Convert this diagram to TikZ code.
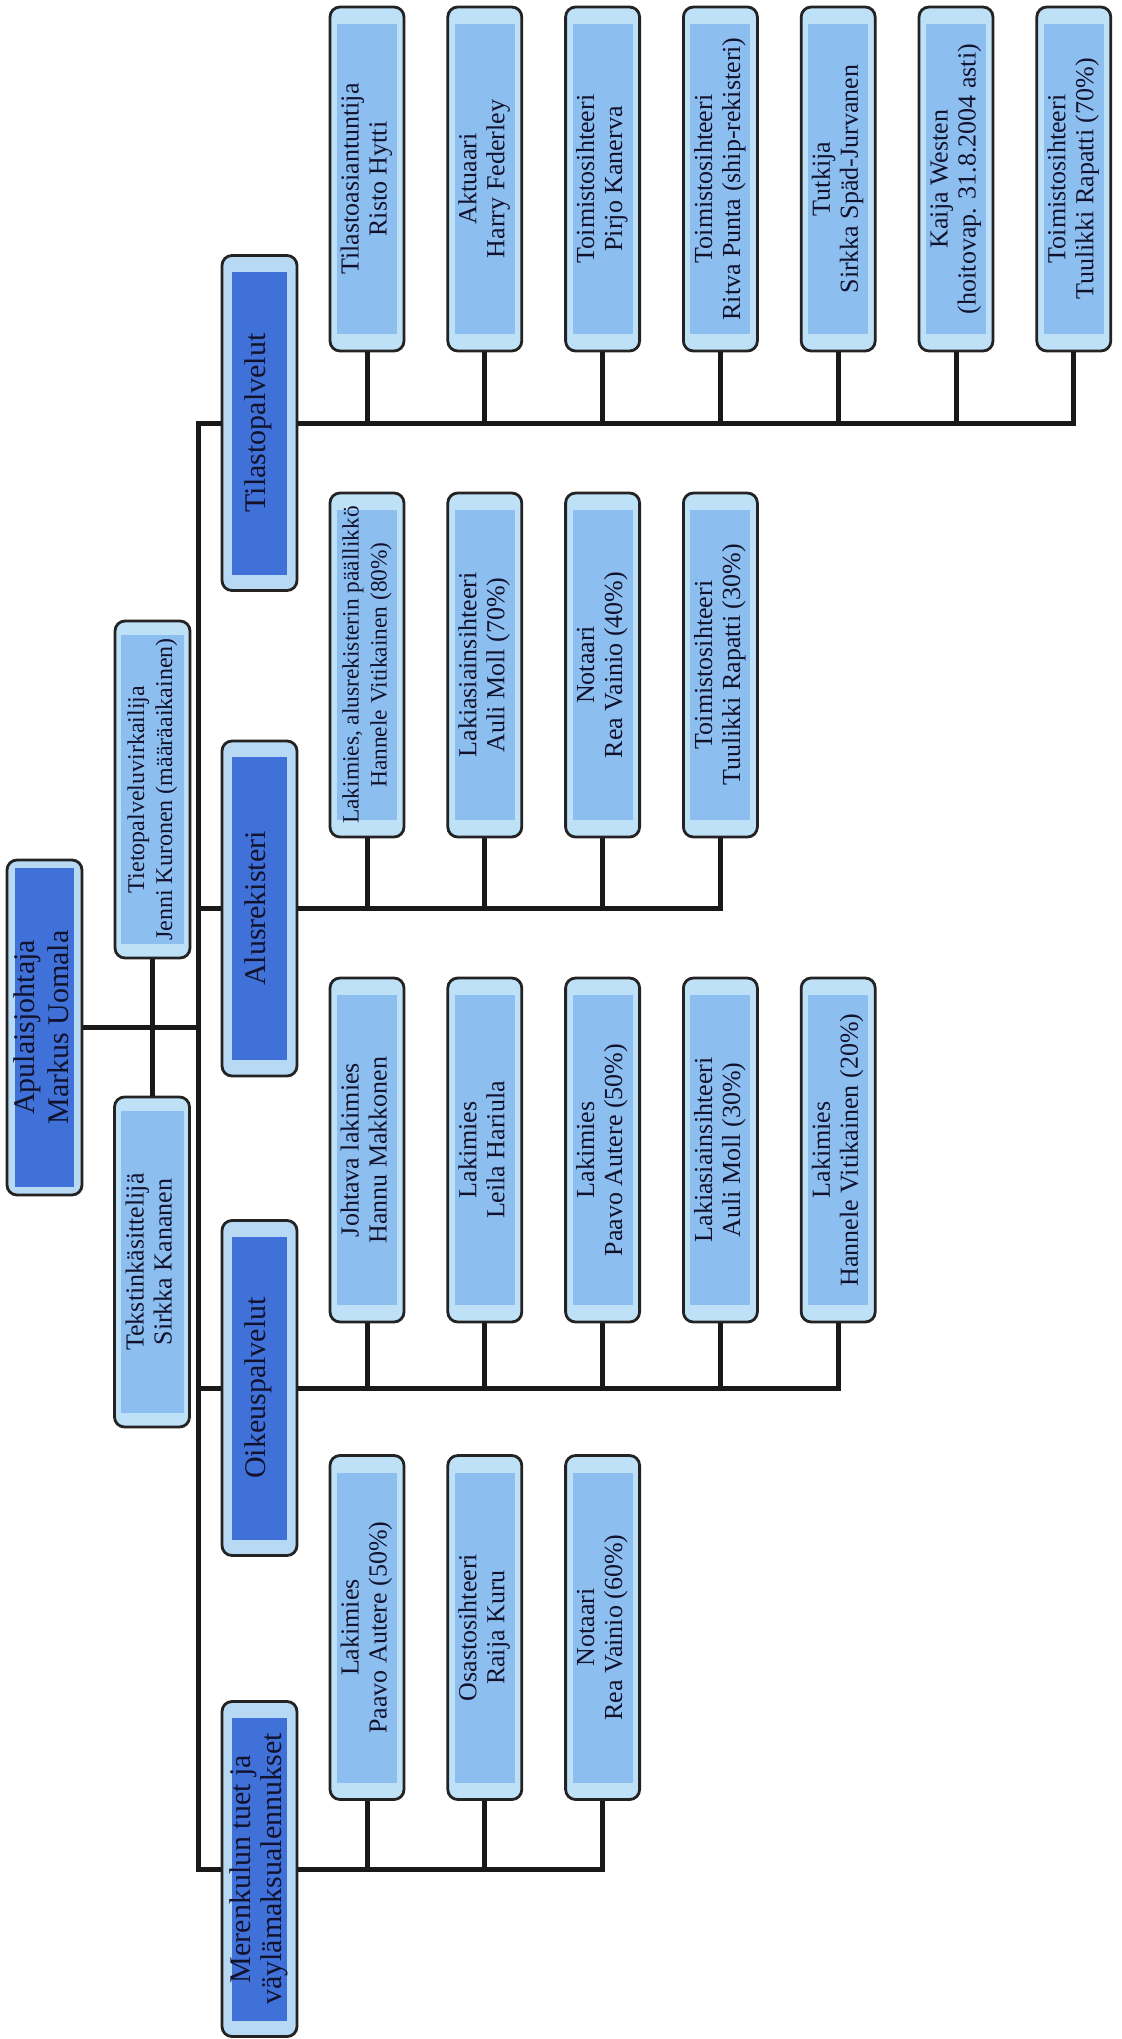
\documentclass[tikz,border=0pt]{standalone}
\usepackage{fontspec}
\setmainfont{Liberation Serif}
\usepackage{graphicx}
\definecolor{cOutL}{RGB}{190,225,247}
\definecolor{cInL}{RGB}{140,190,240}
\definecolor{cOutD}{RGB}{183,217,243}
\definecolor{cInD}{RGB}{63,113,217}
\definecolor{cBord}{RGB}{35,35,35}
\definecolor{cLine}{RGB}{25,25,25}
\definecolor{cText}{RGB}{18,18,45}
\newcommand\vlab[1]{\rotatebox{90}{\begin{tabular}{@{}c@{}}#1\end{tabular}}}
\newcommand\ofInner[3]{\fill[#1,sharp corners] ([shift={(#2,#3)}]path picture bounding box.south west) rectangle ([shift={(-#2,-#3)}]path picture bounding box.north east);}
\tikzset{
 bxbase/.style={draw=cBord, line width=1.4pt, rounded corners=5pt, inner sep=0pt, text=cText},
 childbox/.style={bxbase, fill=cOutL, minimum width=37pt, minimum height=172pt, font=\fontsize{13}{14}\selectfont, path picture={\ofInner{cInL}{3.5pt}{8.5pt}}},
 staffbox/.style={bxbase, fill=cOutL, minimum width=37.5pt, minimum height=167pt, font=\fontsize{13}{14}\selectfont, path picture={\ofInner{cInL}{3pt}{7pt}}},
 deptbox/.style={bxbase, fill=cOutD, minimum width=37.5pt, minimum height=167.5pt, font=\fontsize{15}{15.5}\selectfont, path picture={\ofInner{cInD}{5pt}{8pt}}},
 rootbox/.style={bxbase, fill=cOutD, minimum width=37.5pt, minimum height=167.5pt, font=\fontsize{15}{17}\selectfont, path picture={\ofInner{cInD}{4pt}{4pt}}},
 conn/.style={draw=cLine, line width=2.5pt, line join=miter},
}
\begin{document}
\begin{tikzpicture}[x=0.5pt,y=-0.5pt]
\useasboundingbox (0,0) rectangle (1121,2039);
\fill[white] (0,0) rectangle (1121,2039);

% top level
\node[rootbox] (root) at (44.5,1027.5) {\vlab{Apulaisjohtaja\\Markus Uomala}};
\node[staffbox, minimum height=168.5pt, font=\fontsize{12}{14}\selectfont] (tieto) at (152.5,789.5) {\vlab{Tietopalveluvirkailija\\Jenni Kuronen (määräaikainen)}};
\node[staffbox, minimum height=165pt] (teksti) at (152,1262) {\vlab{Tekstinkäsittelijä\\Sirkka Kananen}};

% departments
\node[deptbox] (tilasto) at (259.5,423) {\vlab{Tilastopalvelut}};
\node[deptbox] (alus) at (259.5,908.5) {\vlab{Alusrekisteri}};
\node[deptbox] (oikeus) at (259.5,1388) {\vlab{Oikeuspalvelut}};
\node[deptbox] (meren) at (259.5,1869) {\vlab{Merenkulun tuet ja\\väylämaksualennukset}};

% Tilastopalvelut staff
\node[childbox] (t1) at (367,179) {\vlab{Tilastoasiantuntija\\Risto Hytti}};
\node[childbox] (t2) at (484.8,179) {\vlab{Aktuaari\\Harry Federley}};
\node[childbox] (t3) at (602.6,179) {\vlab{Toimistosihteeri\\Pirjo Kanerva}};
\node[childbox] (t4) at (720.4,179) {\vlab{Toimistosihteeri\\Ritva Punta (ship-rekisteri)}};
\node[childbox] (t5) at (838.2,179) {\vlab{Tutkija\\Sirkka Späd-Jurvanen}};
\node[childbox] (t6) at (956,179) {\vlab{Kaija Westen\\(hoitovap. 31.8.2004 asti)}};
\node[childbox] (t7) at (1073.8,179) {\vlab{Toimistosihteeri\\Tuulikki Rapatti (70\%)}};

% Alusrekisteri staff
\node[childbox, font=\fontsize{11.7}{14}\selectfont] (a1) at (367,665) {\vlab{Lakimies, alusrekisterin päällikkö\\Hannele Vitikainen (80\%)}};
\node[childbox] (a2) at (484.8,665) {\vlab{Lakiasiainsihteeri\\Auli Moll (70\%)}};
\node[childbox] (a3) at (602.6,665) {\vlab{Notaari\\Rea Vainio (40\%)}};
\node[childbox] (a4) at (720.4,665) {\vlab{Toimistosihteeri\\Tuulikki Rapatti (30\%)}};

% Oikeuspalvelut staff
\node[childbox] (o1) at (367,1150) {\vlab{Johtava lakimies\\Hannu Makkonen}};
\node[childbox] (o2) at (484.8,1150) {\vlab{Lakimies\\Leila Hariula}};
\node[childbox] (o3) at (602.6,1150) {\vlab{Lakimies\\Paavo Autere (50\%)}};
\node[childbox] (o4) at (720.4,1150) {\vlab{Lakiasiainsihteeri\\Auli Moll (30\%)}};
\node[childbox] (o5) at (838.2,1150) {\vlab{Lakimies\\Hannele Vitikainen (20\%)}};

% Merenkulun staff
\node[childbox] (m1) at (367,1627.5) {\vlab{Lakimies\\Paavo Autere (50\%)}};
\node[childbox] (m2) at (484.8,1627.5) {\vlab{Osastosihteeri\\Raija Kuru}};
\node[childbox] (m3) at (602.6,1627.5) {\vlab{Notaari\\Rea Vainio (60\%)}};

% connectors
\coordinate (bx) at (198,0);
\draw[conn] (root.east) -- (root.east -| bx);
\draw[conn] (tieto.south) -- (tieto.south |- teksti.north);
\draw[conn] (tilasto.west) -- (tilasto.west -| bx) -- (meren.west -| bx) -- (meren.west);
\draw[conn] (alus.west -| bx) -- (alus.west);
\draw[conn] (oikeus.west -| bx) -- (oikeus.west);

\draw[conn] (tilasto.east) -- (tilasto.east -| t7.south) -- (t7.south);
\foreach \c in {t1,t2,t3,t4,t5,t6} \draw[conn] (\c.south) -- (\c.south |- tilasto.east);

\draw[conn] (alus.east) -- (alus.east -| a4.south) -- (a4.south);
\foreach \c in {a1,a2,a3} \draw[conn] (\c.south) -- (\c.south |- alus.east);

\draw[conn] (oikeus.east) -- (oikeus.east -| o5.south) -- (o5.south);
\foreach \c in {o1,o2,o3,o4} \draw[conn] (\c.south) -- (\c.south |- oikeus.east);

\draw[conn] (meren.east) -- (meren.east -| m3.south) -- (m3.south);
\foreach \c in {m1,m2} \draw[conn] (\c.south) -- (\c.south |- meren.east);
\end{tikzpicture}
\end{document}
